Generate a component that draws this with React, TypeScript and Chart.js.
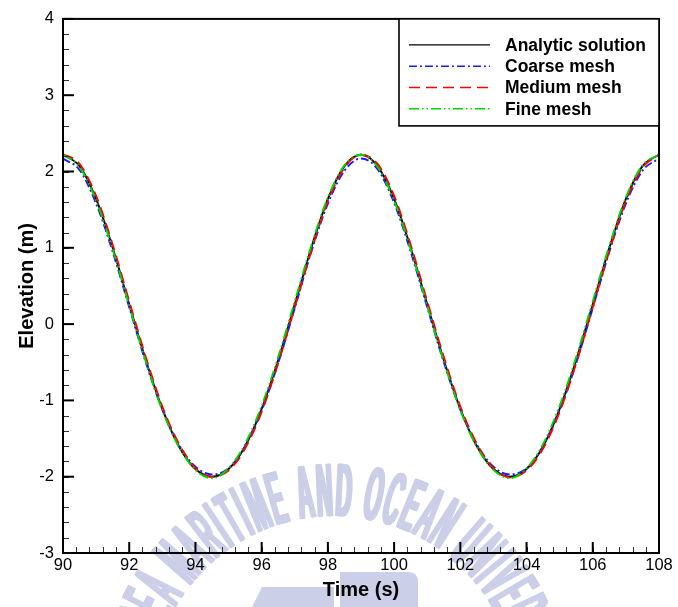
import React, { useEffect, useRef } from 'react';
import { Chart, registerables } from 'chart.js';

Chart.register(...registerables);

// ---------- data ----------
const TIME = [
  90, 90.5, 91, 91.5, 92, 92.5, 93, 93.5, 94, 94.5, 95, 95.5, 96, 96.5, 97, 97.5, 98, 98.5, 99,
  99.5, 100, 100.5, 101, 101.5, 102, 102.5, 103, 103.5, 104, 104.5, 105, 105.5, 106, 106.5, 107, 107.5, 108,
];

const ANALYTIC = [
  2.22, 2.07, 1.64, 1.0, 0.26, -0.47, -1.11, -1.6, -1.9, -2.0, -1.9, -1.6, -1.11, -0.47, 0.26, 1.0, 1.64, 2.07, 2.22,
  2.07, 1.64, 1.0, 0.26, -0.47, -1.11, -1.6, -1.9, -2.0, -1.9, -1.6, -1.11, -0.47, 0.26, 1.0, 1.64, 2.07, 2.22,
];

const COARSE = [
  2.17, 2.02, 1.58, 0.95, 0.22, -0.5, -1.12, -1.58, -1.87, -1.97, -1.89, -1.6, -1.13, -0.51, 0.21, 0.95, 1.58, 2.01, 2.17,
  2.03, 1.59, 0.95, 0.22, -0.5, -1.12, -1.58, -1.87, -1.97, -1.89, -1.6, -1.13, -0.51, 0.21, 0.95, 1.58, 2.01, 2.17,
];

const MEDIUM = [
  2.23, 2.1, 1.68, 1.04, 0.3, -0.43, -1.08, -1.57, -1.89, -2.0, -1.92, -1.63, -1.15, -0.51, 0.22, 0.96, 1.61, 2.05, 2.22,
  2.1, 1.68, 1.04, 0.3, -0.43, -1.08, -1.57, -1.89, -2.01, -1.92, -1.63, -1.15, -0.51, 0.22, 0.96, 1.61, 2.05, 2.22,
];

const FINE = [
  2.22, 2.06, 1.62, 0.98, 0.24, -0.49, -1.13, -1.61, -1.91, -2.02, -1.89, -1.57, -1.07, -0.43, 0.3, 1.03, 1.66, 2.08, 2.22,
  2.06, 1.62, 0.98, 0.24, -0.49, -1.13, -1.61, -1.91, -2.02, -1.89, -1.57, -1.07, -0.43, 0.3, 1.03, 1.66, 2.08, 2.22,
];

const SERIES_LABELS = ['Analytic solution', 'Coarse mesh', 'Medium mesh', 'Fine mesh'];

const X_TICKS = [90, 92, 94, 96, 98, 100, 102, 104, 106, 108];
const Y_TICKS = [-3, -2, -1, 0, 1, 2, 3, 4];
const X_MINOR_STEP = 0.4;
const Y_MINOR_STEP = 0.2;

const X_TITLE = 'Time (s)';
const Y_TITLE = 'Elevation (m)';
const WATERMARK_TEXT = 'KOREA MARITIME AND OCEAN UNIVERSITY';

// ---------- styles ----------
const FONT = '"Liberation Sans", Arial, Helvetica, sans-serif';
const WM_COLOR = '#cbcfe7';

const toPoints = (ys: number[]) => TIME.map((t, i) => ({ x: t, y: ys[i] }));

const watermarkPlugin = {
  id: 'watermark',
  beforeDraw(chart: any) {
    const ctx = chart.ctx as CanvasRenderingContext2D;
    ctx.save();
    ctx.fillStyle = WM_COLOR;
    ctx.font = `bold 40px ${FONT}`;
    const sx = 0.55;
    const sy = 1.9;
    const spacing = 4;
    const cx = 334;
    const cy = 699;
    const rCenter = 210;
    const capH = 0.716 * 40 * sy;
    const rBase = rCenter - capH / 2;
    const chars = [...WATERMARK_TEXT];
    const adv = chars.map((ch) => ctx.measureText(ch).width * sx + spacing);
    const centers: number[] = [];
    let cum = 0;
    for (let i = 0; i < chars.length; i++) {
      centers.push(cum + adv[i] / 2);
      cum += adv[i];
    }
    const anchorIdx = WATERMARK_TEXT.indexOf(' OCEAN');
    const anchor = centers[anchorIdx];
    const anchorAngle = 0.12;
    ctx.textAlign = 'center';
    ctx.textBaseline = 'alphabetic';
    chars.forEach((ch, i) => {
      if (ch === ' ') return;
      const ang = anchorAngle + (centers[i] - anchor) / rCenter;
      ctx.save();
      ctx.translate(cx, cy);
      ctx.rotate(ang);
      ctx.translate(0, -rBase);
      ctx.scale(sx, sy);
      for (const d of [-1.4, -0.7, 0, 0.7, 1.4]) ctx.fillText(ch, d / sx, 0);
      ctx.restore();
    });
    // logo fragments at bottom
    ctx.beginPath();
    ctx.moveTo(252, 607);
    ctx.lineTo(262, 587);
    ctx.lineTo(334, 587);
    ctx.lineTo(334, 607);
    ctx.closePath();
    ctx.fill();
    ctx.beginPath();
    ctx.moveTo(340, 607);
    ctx.lineTo(340, 572);
    ctx.lineTo(408, 572);
    ctx.quadraticCurveTo(418, 572, 418, 582);
    ctx.lineTo(418, 607);
    ctx.closePath();
    ctx.fill();
    ctx.restore();
  },
};

const framePlugin = {
  id: 'frame',
  afterDatasetsDraw(chart: any) {
    const ctx = chart.ctx as CanvasRenderingContext2D;
    const a = chart.chartArea;
    const xs = chart.scales.x;
    const ys = chart.scales.y;
    ctx.save();
    const line = (x1: number, y1: number, x2: number, y2: number) => {
      ctx.beginPath();
      ctx.moveTo(x1, y1);
      ctx.lineTo(x2, y2);
      ctx.stroke();
    };
    // minor ticks
    ctx.lineWidth = 1;
    ctx.strokeStyle = '#333';
    const nx = Math.round((xs.max - xs.min) / X_MINOR_STEP);
    for (let i = 1; i < nx; i++) {
      const p = Math.round(xs.getPixelForValue(xs.min + i * X_MINOR_STEP)) + 0.5;
      line(p, a.bottom, p, a.bottom - 6);
    }
    const ny = Math.round((ys.max - ys.min) / Y_MINOR_STEP);
    for (let i = 1; i < ny; i++) {
      const p = Math.round(ys.getPixelForValue(ys.min + i * Y_MINOR_STEP)) + 0.5;
      line(a.left, p, a.left + 6, p);
    }
    // major ticks
    ctx.strokeStyle = '#000';
    ctx.lineWidth = 2;
    X_TICKS.forEach((v) => {
      const p = xs.getPixelForValue(v);
      line(p, a.bottom, p, a.bottom - 11);
    });
    Y_TICKS.forEach((v) => {
      const p = ys.getPixelForValue(v);
      line(a.left, p, a.left + 11, p);
    });
    // frame
    ctx.lineWidth = 2;
    ctx.strokeRect(a.left, a.top, a.right - a.left, a.bottom - a.top);
    ctx.restore();
  },
};

const legendPlugin = {
  id: 'boxLegend',
  afterDraw(chart: any) {
    const ctx = chart.ctx as CanvasRenderingContext2D;
    const a = chart.chartArea;
    const left = a.right - 260;
    const top = a.top;
    const bottom = a.top + 107;
    ctx.save();
    ctx.fillStyle = '#fff';
    ctx.fillRect(left, top, a.right - left, bottom - top);
    ctx.strokeStyle = '#000';
    ctx.lineWidth = 1.6;
    ctx.strokeRect(left, top, a.right - left, bottom - top);
    const dsList = chart.data.datasets;
    const order = SERIES_LABELS.map((lab) => dsList.find((d: any) => d.label === lab));
    ctx.font = `bold 17.5px ${FONT}`;
    ctx.textBaseline = 'middle';
    ctx.textAlign = 'left';
    order.forEach((ds: any, i: number) => {
      const y = top + 26 + i * 21.3;
      ctx.strokeStyle = ds.borderColor;
      ctx.lineWidth = 1.4;
      ctx.setLineDash(ds.borderDash || []);
      ctx.beginPath();
      ctx.moveTo(left + 10, y);
      ctx.lineTo(left + 91, y);
      ctx.stroke();
      ctx.setLineDash([]);
      ctx.fillStyle = '#000';
      ctx.fillText(ds.label, left + 106, y + 1);
    });
    ctx.restore();
  },
};

export default function App() {
  const canvasRef = useRef<HTMLCanvasElement | null>(null);

  useEffect(() => {
    if (!canvasRef.current) return;
    const common = {
      pointRadius: 0,
      borderWidth: 1.9,
      fill: false,
      cubicInterpolationMode: 'monotone' as const,
    };
    const chart = new Chart(canvasRef.current, {
      type: 'line',
      data: {
        datasets: [
          { ...common, label: SERIES_LABELS[0], data: toPoints(ANALYTIC), borderColor: '#000000', borderDash: [], order: 3 },
          { ...common, label: SERIES_LABELS[1], data: toPoints(COARSE), borderColor: '#1a1aff', borderDash: [8, 3, 2, 3], order: 2 },
          { ...common, label: SERIES_LABELS[2], data: toPoints(MEDIUM), borderColor: '#ff0000', borderDash: [11, 6], order: 1 },
          { ...common, label: SERIES_LABELS[3], data: toPoints(FINE), borderColor: '#00d800', borderDash: [10, 3, 1.5, 3, 1.5, 3], order: 0 },
        ],
      },
      options: {
        responsive: false,
        animation: false,
        events: [],
        layout: { padding: { top: 14, right: 19, left: 0, bottom: 0 } },
        plugins: { legend: { display: false }, tooltip: { enabled: false }, title: { display: false } },
        scales: {
          x: {
            type: 'linear',
            min: 90,
            max: 108,
            afterBuildTicks: (s: any) => {
              s.ticks = X_TICKS.map((v) => ({ value: v }));
            },
            afterFit: (s: any) => {
              s.height = 54;
            },
            ticks: {
              color: '#000',
              font: { family: FONT, size: 16.5 },
              padding: 3,
              maxRotation: 0,
              autoSkip: false,
            },
            grid: { display: false, drawTicks: false },
            border: { display: false },
            title: {
              display: true,
              text: X_TITLE,
              color: '#000',
              font: { family: FONT, size: 20, weight: 'bold' },
              padding: { top: 0, bottom: 5 },
            },
          },
          y: {
            type: 'linear',
            min: -3,
            max: 4,
            afterBuildTicks: (s: any) => {
              s.ticks = Y_TICKS.map((v) => ({ value: v }));
            },
            afterFit: (s: any) => {
              s.width = 63;
            },
            ticks: {
              color: '#000',
              font: { family: FONT, size: 16.5 },
              padding: 9,
              autoSkip: false,
            },
            grid: { display: false, drawTicks: false },
            border: { display: false },
            title: {
              display: true,
              text: Y_TITLE,
              color: '#000',
              font: { family: FONT, size: 20, weight: 'bold' },
              padding: { top: 15, bottom: 0 },
            },
          },
        },
      },
      plugins: [watermarkPlugin, framePlugin, legendPlugin],
    } as any);
    return () => chart.destroy();
  }, []);

  return (
    <div style={{ position: 'fixed', left: 0, top: 0, width: 678, height: 607, background: '#fff' }}>
      <canvas ref={canvasRef} width={678} height={607} style={{ display: 'block', width: 678, height: 607 }} />
    </div>
  );
}
